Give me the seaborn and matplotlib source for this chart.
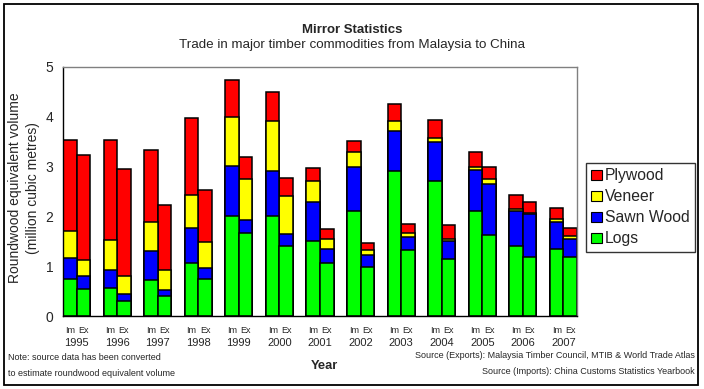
import numpy as np
import pandas as pd
import seaborn as sns
import matplotlib.pyplot as plt
from matplotlib.patches import Patch, Rectangle

# ---------------------------------------------------------------
# Datos (millones de m3 equivalentes en rollo)
# ---------------------------------------------------------------
years = [1995, 1996, 1997, 1998, 1999, 2000, 2001, 2002, 2003, 2004, 2005, 2006, 2007]

# Importaciones (China Customs)
im_logs = [0.74, 0.56, 0.72, 1.06, 2.00, 2.00, 1.50, 2.10, 2.92, 2.72, 2.10, 1.40, 1.34]
im_sawn = [0.42, 0.36, 0.58, 0.70, 1.02, 0.92, 0.78, 0.90, 0.80, 0.78, 0.84, 0.70, 0.54]
im_veneer = [0.54, 0.60, 0.58, 0.66, 0.98, 1.00, 0.44, 0.30, 0.20, 0.08, 0.06, 0.04, 0.06]
im_plywood = [1.83, 2.01, 1.46, 1.55, 0.74, 0.58, 0.26, 0.22, 0.33, 0.36, 0.30, 0.28, 0.22]

# Exportaciones (Malaysia Timber Council)
ex_logs = [0.54, 0.31, 0.40, 0.74, 1.66, 1.40, 1.06, 0.98, 1.32, 1.14, 1.62, 1.18, 1.18]
ex_sawn = [0.26, 0.14, 0.12, 0.22, 0.26, 0.25, 0.28, 0.24, 0.26, 0.36, 1.04, 0.86, 0.36]
ex_veneer = [0.32, 0.36, 0.40, 0.52, 0.84, 0.76, 0.20, 0.10, 0.08, 0.04, 0.10, 0.02, 0.06]
ex_plywood = [2.11, 2.15, 1.31, 1.06, 0.44, 0.36, 0.20, 0.14, 0.18, 0.28, 0.24, 0.22, 0.16]

products = ['Plywood', 'Veneer', 'Sawn Wood', 'Logs']
colores = {'Plywood': '#FF0000', 'Veneer': '#FFFF00', 'Sawn Wood': '#0000FF', 'Logs': '#00FF00'}

# ---------------------------------------------------------------
# Tabla larga: una fila por barra (Im / Ex de cada anio)
# ---------------------------------------------------------------
df = pd.concat([
    pd.DataFrame({'year': years, 'flow': 'Im', 'Logs': im_logs, 'Sawn Wood': im_sawn,
                  'Veneer': im_veneer, 'Plywood': im_plywood}),
    pd.DataFrame({'year': years, 'flow': 'Ex', 'Logs': ex_logs, 'Sawn Wood': ex_sawn,
                  'Veneer': ex_veneer, 'Plywood': ex_plywood}),
])
df['slot'] = df['year'].astype(str) + ' ' + df['flow']

# acumulados para apilar (se dibujan de mayor a menor)
df['cum_Logs'] = df['Logs']
df['cum_Sawn Wood'] = df['cum_Logs'] + df['Sawn Wood']
df['cum_Veneer'] = df['cum_Sawn Wood'] + df['Veneer']
df['cum_Plywood'] = df['cum_Veneer'] + df['Plywood']

# orden de categorias: Im, Ex y un hueco entre anios
slots = []
for i, y in enumerate(years):
    slots += [f'{y} Im', f'{y} Ex']
    if i < len(years) - 1:
        slots.append(f'{y} gap')

# ---------------------------------------------------------------
# Grafica
# ---------------------------------------------------------------
sns.set_style('white')
plt.rcParams['font.family'] = ['Liberation Sans', 'DejaVu Sans']

fig = plt.figure(figsize=(7.04, 3.89), dpi=100)
ax = fig.add_axes([63 / 704, 73 / 389, 514 / 704, 249 / 389])

for p in products:
    sns.barplot(data=df, x='slot', y=f'cum_{p}', order=slots, color=colores[p],
                saturation=1, width=1, edgecolor='black', linewidth=1.1, ax=ax)

ax.set_xlim(-0.5, len(slots) - 0.5)
ax.set_ylim(0, 5)
ax.set_yticks(range(6))
ax.set_yticklabels([str(v) for v in range(6)], fontsize=10)
ax.set_xlabel('')
ax.set_ylabel('')

# etiquetas Im / Ex y anios
pos_bar = [i for i, s in enumerate(slots) if not s.endswith('gap')]
ax.set_xticks(pos_bar)
ax.set_xticklabels([slots[i].split()[1] for i in pos_bar], fontsize=6.5)
ax.set_xticks(np.arange(-0.5, len(slots), 1), minor=True)
ax.tick_params(axis='x', which='major', length=0, pad=7)
ax.tick_params(axis='x', which='minor', length=3, width=0.8, color='black', direction='out')
ax.tick_params(axis='y', length=4, width=0.8, color='black', direction='out', pad=3)

for i, y in enumerate(years):
    xc = slots.index(f'{y} Im') + 0.5
    ax.annotate(str(y), xy=(xc, 0), xycoords=('data', 'axes fraction'),
                xytext=(0, -19.5), textcoords='offset points',
                ha='center', va='center', fontsize=8)

for lado in ['left', 'bottom']:
    ax.spines[lado].set_color('black')
    ax.spines[lado].set_linewidth(1)
for lado in ['top', 'right']:
    ax.spines[lado].set_color('#808080')
    ax.spines[lado].set_linewidth(1)

# leyenda
handles = [Patch(facecolor=colores[p], edgecolor='black', linewidth=0.8, label=p) for p in products]
leg = fig.legend(handles=handles, loc='upper left', bbox_to_anchor=(586 / 704, 1 - 163 / 389),
                 bbox_transform=fig.transFigure, fontsize=11.3, frameon=True, fancybox=False,
                 handlelength=0.65, handleheight=0.65, handletextpad=0.2, labelspacing=0.38,
                 borderpad=0.35, borderaxespad=0)
leg.get_frame().set_edgecolor('black')
leg.get_frame().set_linewidth(1)

# textos
fig.text(352 / 704, 1 - 30 / 389, 'Mirror Statistics', ha='center', va='center',
         fontsize=9.5, fontweight='bold')
fig.text(352 / 704, 1 - 45 / 389, 'Trade in major timber commodities from Malaysia to China',
         ha='center', va='center', fontsize=9.6)
fig.text(24 / 704, 1 - 188 / 389, 'Roundwood equivalent volume\n(million cubic metres)',
         rotation=90, ha='center', va='center', fontsize=10, linespacing=1.3)
fig.text(324 / 704, 1 - 366 / 389, 'Year', ha='center', va='center', fontsize=9.3, fontweight='bold')
fig.text(8 / 704, 1 - 357 / 389, 'Note: source data has been converted', ha='left', va='center', fontsize=6.5)
fig.text(8 / 704, 1 - 373 / 389, 'to estimate roundwood equivalent volume', ha='left', va='center', fontsize=6.5)
fig.text(695 / 704, 1 - 356 / 389, 'Source (Exports): Malaysia Timber Council, MTIB & World Trade Atlas',
         ha='right', va='center', fontsize=6.5)
fig.text(695 / 704, 1 - 372 / 389, 'Source (Imports): China Customs Statistics Yearbook',
         ha='right', va='center', fontsize=6.5)

# marco exterior
fig.patches.append(Rectangle((4 / 704, 4 / 389), 694 / 704, 381 / 389, transform=fig.transFigure,
                             fill=False, edgecolor='black', linewidth=1.3))

fig.savefig('out.png', dpi=100)
